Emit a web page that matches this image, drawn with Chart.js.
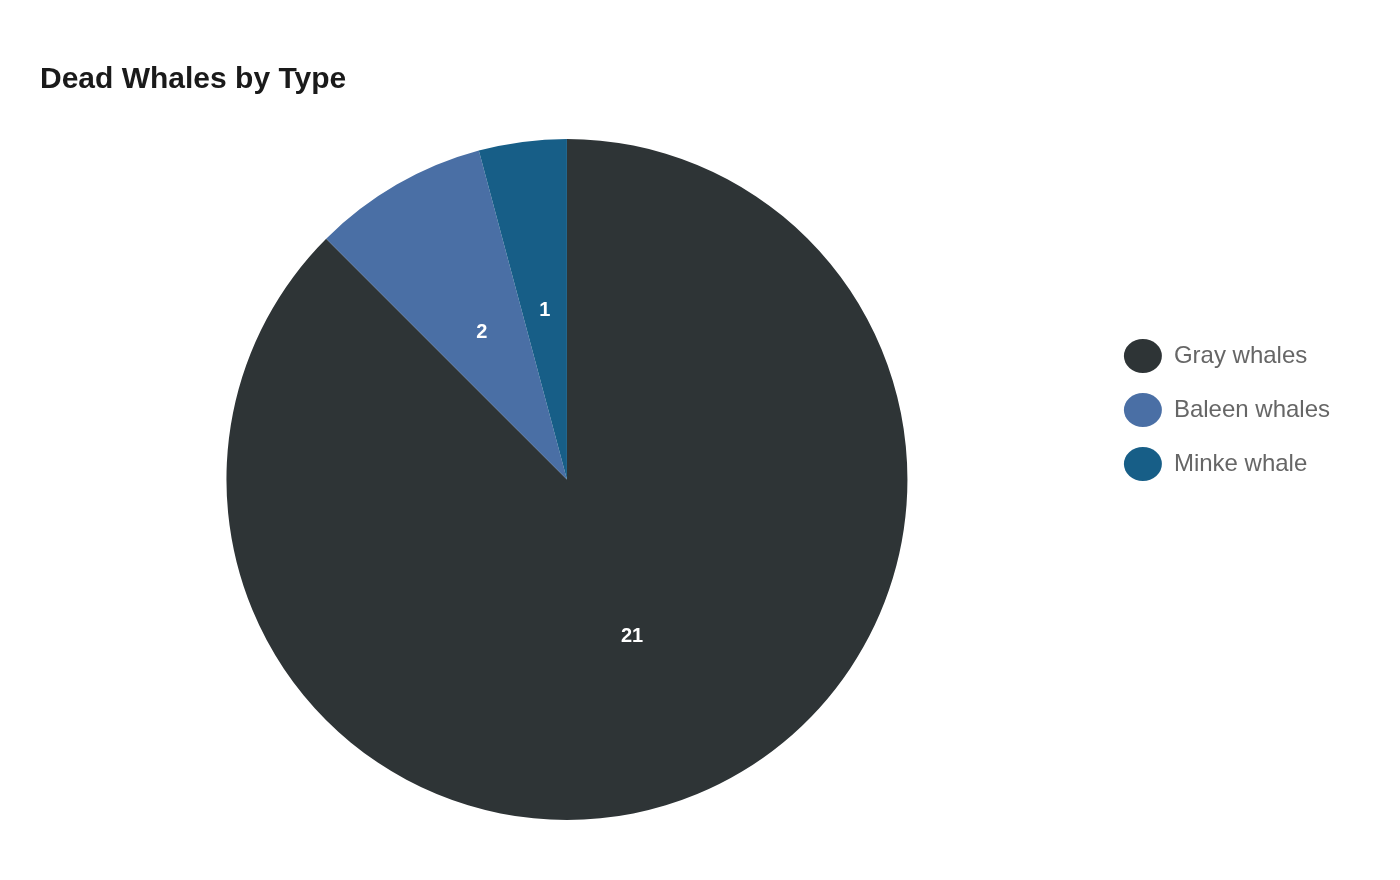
<!DOCTYPE html>
<html><head><meta charset="utf-8">
<script src="https://cdn.jsdelivr.net/npm/chart.js@4/dist/chart.umd.min.js"></script>
<style>html,body{margin:0;padding:0;background:#fff}#wrap{width:1400px;height:880px}</style>
</head><body><div id="wrap"><canvas id="c"></canvas></div>
<script>
const categories = ["Gray whales", "Baleen whales", "Minke whale"];
const values = [21, 2, 1];
const colors = ["#2e3436", "#4a6fa5", "#175e87"];

const labelPlugin = {
  id: 'sliceLabels',
  afterDatasetsDraw(chart) {
    const ctx = chart.ctx;
    const meta = chart.getDatasetMeta(0);
    ctx.save();
    ctx.fillStyle = '#fff';
    ctx.font = 'bold 20px "Liberation Sans", Arial, sans-serif';
    ctx.textAlign = 'center';
    ctx.textBaseline = 'middle';
    meta.data.forEach((arc, i) => {
      const mid = (arc.startAngle + arc.endAngle) / 2;
      const r = arc.outerRadius * 0.5;
      ctx.fillText(String(values[i]), arc.x + Math.cos(mid) * r, arc.y + Math.sin(mid) * r);
    });
    ctx.restore();
  }
};

new Chart(document.getElementById('c'), {
  type: 'pie',
  data: { labels: categories, datasets: [{ data: values, backgroundColor: colors, borderWidth: 0 }] },
  options: {
    responsive: true, maintainAspectRatio: false, animation: false,
    layout: { padding: { left: 40, right: 60, top: 0, bottom: 60 } },
    plugins: {
      tooltip: { enabled: false },
      title: { display: true, text: 'Dead Whales by Type', align: 'start', color: '#1a1a1a',
        font: { size: 30, weight: 'bold', family: '"Liberation Sans", Arial, sans-serif' },
        padding: { top: 62, bottom: 41 } },
      legend: { position: 'right',
        labels: { usePointStyle: true, pointStyle: 'circle', pointStyleWidth: 38, boxHeight: 24, padding: 30, color: '#666',
          font: { size: 24, family: '"Liberation Sans", Arial, sans-serif' } } }
    }
  },
  plugins: [labelPlugin]
});
</script></body></html>
